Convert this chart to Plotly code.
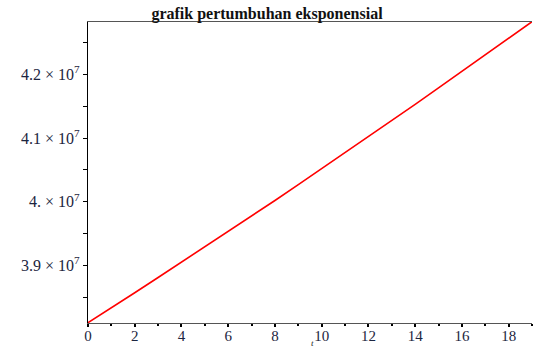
import plotly.graph_objects as go

t_values = list(range(0, 20))
population = [3.810e7, 3.833e7, 3.857e7, 3.881e7, 3.905e7, 3.929e7, 3.953e7,
              3.978e7, 4.002e7, 4.027e7, 4.052e7, 4.077e7, 4.102e7, 4.128e7,
              4.153e7, 4.179e7, 4.205e7, 4.231e7, 4.257e7, 4.283e7]

x_tick_vals = [0, 2, 4, 6, 8, 10, 12, 14, 16, 18]
y_tick_vals = [3.9e7, 4.0e7, 4.1e7, 4.2e7]
y_tick_text = ["3.9 × 10<sup>7</sup>", "4. × 10<sup>7</sup>",
               "4.1 × 10<sup>7</sup>", "4.2 × 10<sup>7</sup>"]

serif = "Liberation Serif, Times New Roman, serif"
label_color = "#1c2540"

fig = go.Figure()
fig.add_trace(go.Scatter(x=t_values, y=population, mode="lines",
                         line=dict(color="#ff0000", width=1.6),
                         showlegend=False, hoverinfo="skip"))

fig.update_layout(
    width=535, height=349,
    margin=dict(l=88, r=3, t=22, b=26, autoexpand=False),
    paper_bgcolor="white", plot_bgcolor="white",
    title=dict(text="<b>grafik pertumbuhan eksponensial</b>", x=267 / 535, xanchor="center",
               y=1 - 19 / 349, yanchor="bottom",
               font=dict(family=serif, size=16, color="#111111")),
    font=dict(family=serif, size=14, color=label_color),
)

fig.update_xaxes(
    range=[0, 19.0], showgrid=False, zeroline=False, automargin=False,
    showline=True, linecolor="#555555", linewidth=1.3, mirror=True,
    tickmode="array", tickvals=x_tick_vals, ticks="outside", ticklen=3,
    tickcolor="#000000", tickwidth=1.5, ticklabelstandoff=-4,
    tickfont=dict(family=serif, size=15, color=label_color),
    minor=dict(dtick=1, tick0=1, ticks="outside", ticklen=2, tickcolor="#000000"),
)

fig.update_yaxes(
    range=[3.8095e7, 4.2825e7], showgrid=False, zeroline=False, automargin=False,
    showline=True, linecolor="#000000", linewidth=1.3,
    tickmode="array", tickvals=y_tick_vals, ticktext=y_tick_text,
    ticks="outside", ticklen=4, tickcolor="#000000", tickwidth=1,
    tickfont=dict(family=serif, size=16, color=label_color),
    minor=dict(tickvals=[3.85e7, 3.95e7, 4.05e7, 4.15e7, 4.25e7],
               ticks="outside", ticklen=4, tickcolor="#000000"),
)

fig.add_annotation(text="<i>t</i>", xref="paper", yref="paper",
                   x=(312 - 88) / 444, y=-20 / 301, xanchor="center", yanchor="middle",
                   showarrow=False, font=dict(family=serif, size=9, color="#222222"))

fig.write_html("out.html", config={"displayModeBar": False},
               post_script="document.body.style.margin='0';document.body.style.overflow='hidden';")
